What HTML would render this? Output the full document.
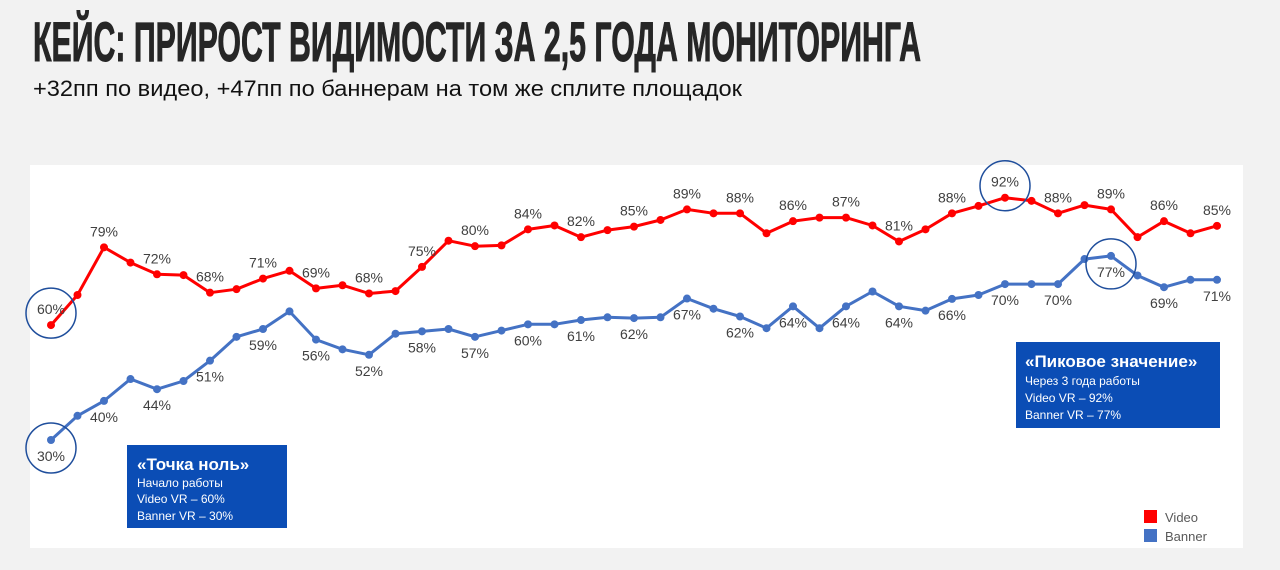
<!DOCTYPE html>
<html><head><meta charset="utf-8">
<style>
html,body{margin:0;padding:0;background:#f2f2f2;}
svg{display:block;font-family:"Liberation Sans","DejaVu Sans",sans-serif;}
</style></head>
<body>
<svg id="chart" width="1280" height="570" viewBox="0 0 1280 570" xmlns="http://www.w3.org/2000/svg">
  <rect x="0" y="0" width="1280" height="570" fill="#f2f2f2"/>
  <text x="33" y="61" font-family="'Liberation Sans Narrow','Liberation Sans',sans-serif" font-weight="bold" font-size="56" fill="#262626" stroke="#262626" stroke-width="1" textLength="888" lengthAdjust="spacingAndGlyphs">КЕЙС: ПРИРОСТ ВИДИМОСТИ ЗА 2,5 ГОДА МОНИТОРИНГА</text>
  <text x="33" y="96" font-size="22" fill="#111" textLength="709" lengthAdjust="spacingAndGlyphs">+32пп по видео, +47пп по баннерам на том же сплите площадок</text>
  <rect x="30" y="165" width="1213" height="383" fill="#ffffff"/>
  <g id="series"></g>
  <g>
    <rect x="127" y="445" width="160" height="83" fill="#0b4db5"/>
    <text x="137" y="470" font-size="17" font-weight="bold" fill="#fff">«Точка ноль»</text>
    <text x="137" y="487" font-size="12" fill="#fff">Начало работы</text>
    <text x="137" y="503" font-size="12" fill="#fff">Video VR – 60%</text>
    <text x="137" y="520" font-size="12" fill="#fff">Banner VR – 30%</text>
  </g>
  <g>
    <rect x="1016" y="342" width="204" height="86" fill="#0b4db5"/>
    <text x="1025" y="367" font-size="17" font-weight="bold" fill="#fff">«Пиковое значение»</text>
    <text x="1025" y="385" font-size="12" fill="#fff">Через 3 года работы</text>
    <text x="1025" y="402" font-size="12" fill="#fff">Video VR – 92%</text>
    <text x="1025" y="419" font-size="12" fill="#fff">Banner VR – 77%</text>
  </g>
  <g>
    <rect x="1144" y="510" width="13" height="13" fill="#ff0000"/>
    <text x="1165" y="522" font-size="13" fill="#595959">Video</text>
    <rect x="1144" y="529" width="13" height="13" fill="#4472c4"/>
    <text x="1165" y="541" font-size="13" fill="#595959">Banner</text>
  </g>
</svg>
<script>
const videoValues = [59.4,67.1,79.3,75.4,72.4,72.2,67.7,68.6,71.3,73.3,68.8,69.6,67.5,68.1,74.3,81.0,79.6,79.8,83.9,84.9,81.9,83.7,84.6,86.3,89.0,88.0,88.0,82.9,86.0,86.9,86.9,84.9,80.8,83.9,88.0,89.9,92.0,91.2,88.0,90.1,89.0,81.9,86.0,82.9,84.8];
const bannerValues = [30,36.2,40.0,45.6,43.0,45.1,50.3,56.4,58.4,62.9,55.7,53.2,51.8,57.2,57.8,58.4,56.4,58.0,59.6,59.6,60.7,61.4,61.2,61.4,66.2,63.6,61.6,58.6,64.2,58.6,64.2,68.0,64.2,63.1,66.1,67.1,69.9,69.9,69.9,76.3,77.1,72.1,69.1,71.0,71.0];
const videoLabels = ["60%",null,"79%",null,"72%",null,"68%",null,"71%",null,"69%",null,"68%",null,"75%",null,"80%",null,"84%",null,"82%",null,"85%",null,"89%",null,"88%",null,"86%",null,"87%",null,"81%",null,"88%",null,"92%",null,"88%",null,"89%",null,"86%",null,"85%"];
const bannerLabels = ["30%",null,"40%",null,"44%",null,"51%",null,"59%",null,"56%",null,"52%",null,"58%",null,"57%",null,"60%",null,"61%",null,"62%",null,"67%",null,"62%",null,"64%",null,"64%",null,"64%",null,"66%",null,"70%",null,"70%",null,"77%",null,"69%",null,"71%"];
const highlightVideo = [0,36];
const highlightBanner = [0,40];

const NS = "http://www.w3.org/2000/svg";
const g = document.getElementById("series");
function xPos(i){ return 51 + i*(1217-51)/(videoValues.length-1); }
function yPos(v){ return 440 - (v-30)*3.908; }

function drawSeries(vals, labels, color, name, dy, hl){
  const pts = vals.map((v,i)=>xPos(i).toFixed(1)+","+yPos(v).toFixed(1)).join(" ");
  const pl = document.createElementNS(NS,"polyline");
  pl.setAttribute("points", pts);
  pl.setAttribute("fill","none");
  pl.setAttribute("stroke",color);
  pl.setAttribute("stroke-width","3");
  pl.setAttribute("stroke-linejoin","round");
  
  
  g.appendChild(pl);
  vals.forEach((v,i)=>{
    const c = document.createElementNS(NS,"circle");
    c.setAttribute("cx",xPos(i)); c.setAttribute("cy",yPos(v)); c.setAttribute("r","4");
    c.setAttribute("fill",color);
    
    
    g.appendChild(c);
    if(labels[i]){
      const t = document.createElementNS(NS,"text");
      t.setAttribute("x",xPos(i)); t.setAttribute("y",yPos(v)+dy);
      t.setAttribute("text-anchor","middle"); t.setAttribute("font-size","14");
      t.setAttribute("fill","#404040");
      t.textContent = labels[i];
      
      
      g.appendChild(t);
    }
  });
  hl.forEach(i=>{
    const c = document.createElementNS(NS,"circle");
    const cy = yPos(vals[i]) + (dy<0 ? -12 : 8);
    c.setAttribute("cx",xPos(i)); c.setAttribute("cy",cy); c.setAttribute("r","25");
    c.setAttribute("fill","none"); c.setAttribute("stroke","#1f4e9c"); c.setAttribute("stroke-width","1.5");
    
    
    g.appendChild(c);
  });
}
drawSeries(videoValues, videoLabels, "#ff0000", "video", -11, highlightVideo);
drawSeries(bannerValues, bannerLabels, "#4472c4", "banner", 21, highlightBanner);
</script>
</body></html>
